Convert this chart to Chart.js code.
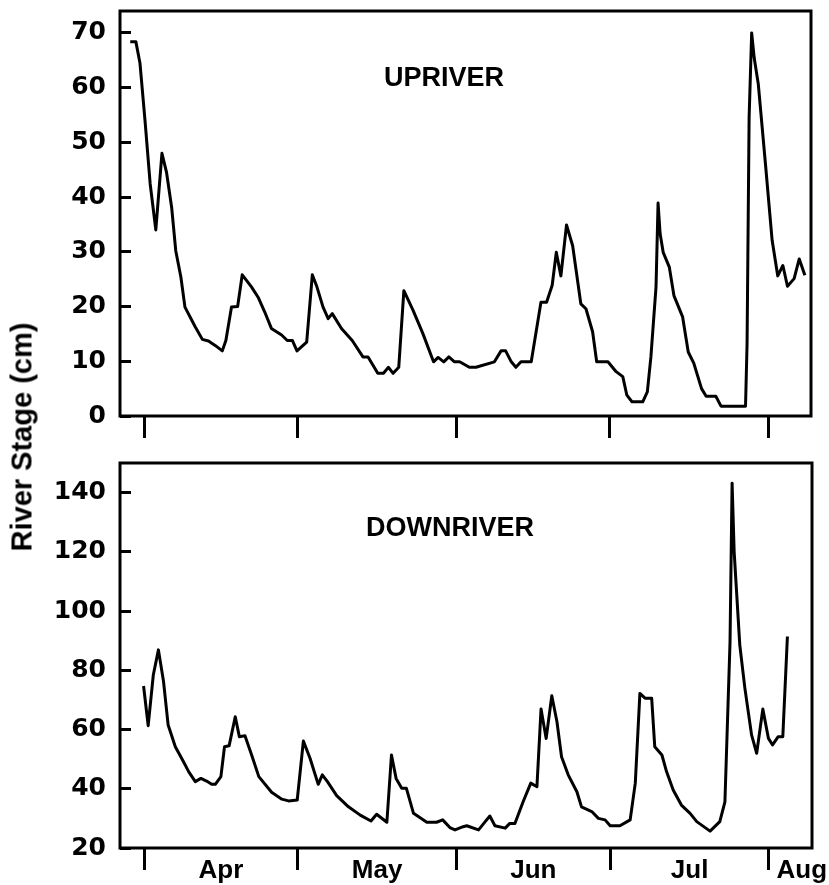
<!DOCTYPE html>
<html lang="en">

<head>
    <meta charset="UTF-8">
    <script src="https://cdn.jsdelivr.net/npm/chart.js"></script>
    <title>River Stage</title>
    <style>
        body { margin: 0; background: #fff; }
        #pagina { position: relative; width: 829px; height: 885px; background: #fff; overflow: hidden; }
        #cima { position: absolute; left: 0; top: 0; }
        #baixo { position: absolute; left: 0; top: 450px; }
        #tituloY {
            position: absolute; left: 22px; top: 437px;
            transform: translate(-50%, -50%) rotate(-90deg);
            font: bold 29px "Liberation Sans", Arial, sans-serif;
            line-height: 1; white-space: nowrap; color: #000;
        }
    </style>
</head>

<body>
    <div id="pagina">
        <canvas id="cima" width="829" height="450"></canvas>
        <canvas id="baixo" width="829" height="435"></canvas>
        <div id="tituloY">River Stage (cm)</div>
    </div>
</body>
<script>

    // days counted from Apr 1 (day 0)
    const monthStarts = [0, 30, 61, 91, 122];
    const monthNames = ['Apr', 'May', 'Jun', 'Jul', 'Aug'];
    const monthLabelDays = [15, 45.5, 76, 106.5, 128.4];

    const upTicks = [0, 10, 20, 30, 40, 50, 60, 70];
    const downTicks = [20, 40, 60, 80, 100, 120, 140];

    // UPRIVER
    const upDays = [-2.7, -1.6, -0.8, 0.2, 1.2, 2.3, 3.5, 4.4, 5.4, 6.2, 7.2, 8.0, 10.0, 11.4, 12.6, 13.9,
        15.3, 16.0, 17.1, 18.3, 19.2, 21.0, 22.3, 23.6, 24.9, 26.9, 28.0, 29.0, 29.9, 31.8, 32.9, 33.8,
        35.0, 36.0, 36.8, 38.6, 40.7, 42.8, 43.8, 45.7, 46.8, 47.8, 48.7, 49.8, 50.8, 52.6, 54.5, 56.6,
        57.5, 58.6, 59.6, 60.7, 61.7, 63.6, 64.9, 68.5, 69.8, 70.7, 71.8, 72.7, 73.7, 75.7, 77.6, 78.7,
        79.8, 80.6, 81.5, 82.6, 83.8, 85.4, 86.4, 87.7, 88.5, 90.7, 92.3, 93.6, 94.4, 95.4, 97.5, 98.4,
        99.1, 100.1, 100.5, 100.9, 101.5, 102.7, 103.6, 105.3, 106.4, 107.5, 109.0, 109.9, 111.8, 112.8,
        117.6, 117.9, 118.3, 118.8, 119.3, 120.1, 121.5, 122.8, 123.9, 124.9, 125.8, 127.1, 128.1, 129.2];
    const upStage = [68.4, 68.4, 64.5, 53.9, 42.4, 34.0, 48.0, 44.5, 38.1, 30.2, 25.4, 19.9, 16.3, 14.0, 13.7, 12.9,
        11.9, 13.8, 19.9, 20.0, 25.8, 23.6, 21.7, 19.0, 16.0, 14.8, 13.8, 13.8, 11.9, 13.5, 25.8, 23.6,
        19.9, 17.8, 18.7, 16.0, 13.8, 10.8, 10.8, 7.8, 7.8, 8.9, 7.8, 8.9, 22.9, 19.3, 15.1, 9.9,
        10.7, 9.9, 10.8, 9.9, 9.9, 8.9, 8.9, 9.9, 11.9, 11.9, 9.9, 8.9, 9.9, 9.9, 20.8, 20.8,
        23.9, 29.9, 25.6, 34.9, 31.1, 20.5, 19.6, 15.4, 9.9, 9.9, 8.1, 7.2, 3.8, 2.6, 2.6, 4.4,
        10.8, 23.6, 38.9, 33.3, 29.9, 27.2, 22.0, 18.1, 11.7, 9.6, 5.0, 3.6, 3.6, 1.8,
        1.8, 13.2, 54.5, 70.0, 65.4, 60.6, 46.0, 32.1, 25.6, 27.5, 23.7, 25.1, 28.7, 25.7];

    // DOWNRIVER
    const downDays = [-0.1, 0.8, 1.8, 2.8, 3.8, 4.7, 6.1, 7.7, 8.7, 10.0, 11.1, 12.2, 13.2, 13.9, 15.0, 15.7,
        16.6, 17.8, 18.6, 19.7, 21.0, 22.4, 24.9, 26.9, 28.2, 29.9, 31.1, 32.4, 34.0, 34.8, 35.8, 37.6,
        39.9, 42.2, 44.3, 45.4, 47.4, 48.3, 49.2, 50.3, 51.2, 52.6, 55.2, 57.1, 58.3, 59.7, 60.7, 62.3,
        63.0, 65.3, 66.6, 67.5, 68.5, 70.5, 71.4, 72.4, 74.0, 75.5, 76.7, 77.5, 78.5, 79.6, 80.6, 81.5,
        82.8, 84.5, 85.4, 87.4, 88.7, 90.0, 91.0, 92.9, 94.9, 95.9, 96.8, 97.8, 99.1, 99.7, 101.1, 102.0,
        103.3, 104.9, 106.6, 107.9, 110.5, 112.4, 113.4, 113.9, 114.4, 114.8, 115.2, 116.3, 117.3, 118.6,
        119.6, 120.8, 121.9, 122.7, 123.8, 124.7, 125.6];
    const downStage = [74.7, 61.3, 78.4, 86.9, 76.2, 61.5, 54.2, 49.1, 45.8, 42.4, 43.5, 42.6, 41.5, 41.5, 44.1, 54.2,
        54.5, 64.3, 57.6, 57.9, 51.4, 44.1, 38.8, 36.5, 35.9, 36.2, 56.1, 50.3, 41.5, 44.7, 42.4, 37.7,
        33.9, 31.1, 29.1, 31.4, 28.7, 51.4, 43.5, 40.2, 40.2, 31.7, 28.7, 28.7, 29.5, 26.9, 26.1, 27.2,
        27.5, 26.1, 28.9, 30.8, 27.5, 26.7, 28.3, 28.3, 35.6, 41.9, 40.7, 66.9, 57.0, 71.4, 62.7, 50.8,
        44.7, 39.0, 33.9, 32.3, 30.0, 29.5, 27.5, 27.5, 29.5, 41.9, 72.2, 70.6, 70.6, 54.2, 51.4, 45.8,
        39.6, 34.5, 31.7, 28.9, 25.7, 28.9, 35.6, 62.7, 89.7, 143.2, 120.1, 88.6, 73.9, 58.2,
        52.0, 66.9, 57.0, 54.8, 57.6, 57.6, 91.4];

    const xTickDays = monthStarts.concat(monthLabelDays).sort((a, b) => a - b);

    const moldura = {
        id: 'moldura',
        afterDatasetsDraw(chart) {
            const a = chart.chartArea;
            const ctx = chart.ctx;
            ctx.save();
            ctx.lineWidth = 3;
            ctx.strokeStyle = '#000';
            ctx.strokeRect(a.left, a.top, a.right - a.left, a.bottom - a.top);
            ctx.restore();
        }
    };

    const rotuloPainel = {
        id: 'rotuloPainel',
        afterDraw(chart, args, opts) {
            const a = chart.chartArea;
            const ctx = chart.ctx;
            ctx.save();
            ctx.font = 'bold 27px "Liberation Sans", Arial, sans-serif';
            ctx.fillStyle = '#000';
            ctx.textAlign = 'center';
            ctx.textBaseline = 'alphabetic';
            ctx.fillText(opts.text, a.left + opts.fx * (a.right - a.left), a.top + opts.fy * (a.bottom - a.top));
            ctx.restore();
        }
    };

    function eixoX(mostrarRotulos, altura) {
        return {
            type: 'linear',
            min: -4.7,
            max: 130.4,
            afterBuildTicks: function (axis) {
                axis.ticks = xTickDays.map(v => ({ value: v }));
            },
            afterFit: function (axis) {
                axis.height = altura;
                axis.paddingLeft = 0;
                axis.paddingRight = 0;
            },
            border: { display: false },
            grid: {
                drawOnChartArea: false,
                tickLength: 22,
                tickWidth: 3,
                tickColor: ctx => (ctx.tick && monthStarts.includes(ctx.tick.value)) ? '#000' : 'rgba(0,0,0,0)'
            },
            ticks: {
                autoSkip: false,
                maxRotation: 0,
                padding: -15,
                color: '#000',
                font: { family: '"Liberation Sans", Arial, sans-serif', weight: 'bold', size: 26 },
                callback: function (value) {
                    const i = monthLabelDays.indexOf(value);
                    return (mostrarRotulos && i >= 0) ? monthNames[i] : '';
                }
            }
        };
    }

    function eixoY(min, max, valores) {
        return {
            min: min,
            max: max,
            afterBuildTicks: function (axis) {
                axis.ticks = valores.map(v => ({ value: v }));
            },
            afterFit: function (axis) {
                axis.width = 120;
                axis.paddingTop = 0;
                axis.paddingBottom = 0;
            },
            border: { display: false },
            grid: { drawOnChartArea: false, tickLength: -11, tickWidth: 3, tickColor: '#000' },
            ticks: {
                padding: 25,
                color: '#000',
                font: { family: '"DejaVu Sans", sans-serif', weight: 'bold', size: 25 }
            }
        };
    }

    function plotar(id, dias, valores, yMin, yMax, yTicks, altX, mostrarRotulos, padding, texto, fx, fy) {
        const pontos = dias.map((d, i) => ({ x: d, y: valores[i] }));
        const config = {
            type: 'line',
            data: {
                datasets: [{
                    data: pontos,
                    borderColor: '#000',
                    borderWidth: 3,
                    pointRadius: 0,
                    tension: 0,
                    borderJoinStyle: 'round',
                    fill: false
                }]
            },
            options: {
                responsive: false,
                animation: false,
                devicePixelRatio: 1,
                layout: { padding: padding },
                scales: {
                    x: eixoX(mostrarRotulos, altX),
                    y: eixoY(yMin, yMax, yTicks)
                },
                plugins: {
                    legend: { display: false },
                    tooltip: { enabled: false },
                    rotuloPainel: { text: texto, fx: fx, fy: fy }
                }
            },
            plugins: [moldura, rotuloPainel]
        };
        return new Chart(document.getElementById(id), config);
    }

    plotar('cima', upDays, upStage, 0, 74, upTicks, 34, false,
        { top: 11, right: 18, left: 0, bottom: 0 }, 'UPRIVER', 0.469, 0.185);
    plotar('baixo', downDays, downStage, 20, 150, downTicks, 37, true,
        { top: 13, right: 17, left: 0, bottom: 0 }, 'DOWNRIVER', 0.477, 0.19);

</script>

</html>
